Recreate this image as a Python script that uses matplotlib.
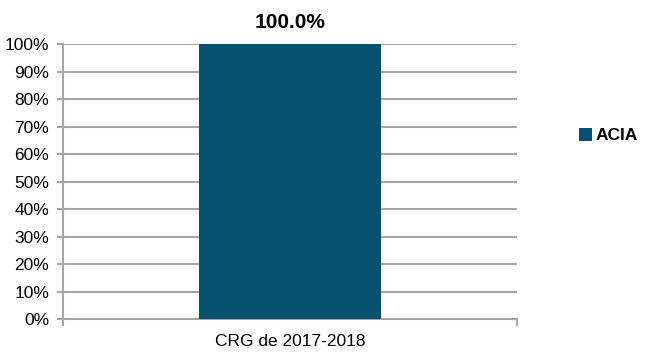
import matplotlib
matplotlib.use("Agg")
import matplotlib.pyplot as plt
from matplotlib.ticker import PercentFormatter

categories = ["CRG de 2017-2018"]
series_name = "ACIA"
values = [100.0]
y_ticks = [0, 10, 20, 30, 40, 50, 60, 70, 80, 90, 100]

plt.rcParams['font.family'] = ['Liberation Sans', 'DejaVu Sans']

fig = plt.figure(figsize=(6.57, 3.64), dpi=100)
ax = fig.add_axes([0.0959, 0.1236, 0.787 - 0.0959, 0.879 - 0.1236])

bar_color = "#03506f"
grid_color = "#a6a6a6"

x = list(range(len(categories)))
bars = ax.bar(x, values, width=0.4, color=bar_color, label=series_name, zorder=3)

ax.set_xlim(-0.5, len(categories) - 0.5)
ax.set_ylim(0, 100)
ax.set_yticks(y_ticks)
ax.yaxis.set_major_formatter(PercentFormatter(decimals=0))
ax.set_xticks(x)
ax.set_xticklabels(categories)

ax.yaxis.grid(True, color=grid_color, linewidth=1.5, zorder=0)
ax.set_axisbelow(True)
for side in ("top", "right"):
    ax.spines[side].set_visible(False)
ax.spines["left"].set_color(grid_color)
ax.spines["left"].set_linewidth(1.5)
ax.spines["bottom"].set_color(grid_color)
ax.spines["bottom"].set_linewidth(1.5)

ax.tick_params(axis="y", length=4, width=1.5, color=grid_color, labelsize=12.5, pad=6)
ax.tick_params(axis="x", length=0, labelsize=12.5, pad=11)
# small tick marks at the category boundaries
for xb in (-0.5, len(categories) - 0.5):
    ax.plot([xb, xb], [0, -2], color=grid_color, linewidth=1.5, clip_on=False)

for b, v in zip(bars, values):
    ax.annotate(f"{v:.1f}%", (b.get_x() + b.get_width() / 2, v), xytext=(0, 9),
                textcoords="offset points", ha="center", va="bottom",
                fontsize=15, fontweight="bold")

leg = fig.legend(handles=[bars], labels=[series_name], loc="center left",
                 bbox_to_anchor=(0.857, 0.627), frameon=False, handlelength=0.75,
                 handleheight=0.75, handletextpad=0.25,
                 prop={"size": 12.5, "weight": "bold"})

fig.savefig("out.png", dpi=100)
